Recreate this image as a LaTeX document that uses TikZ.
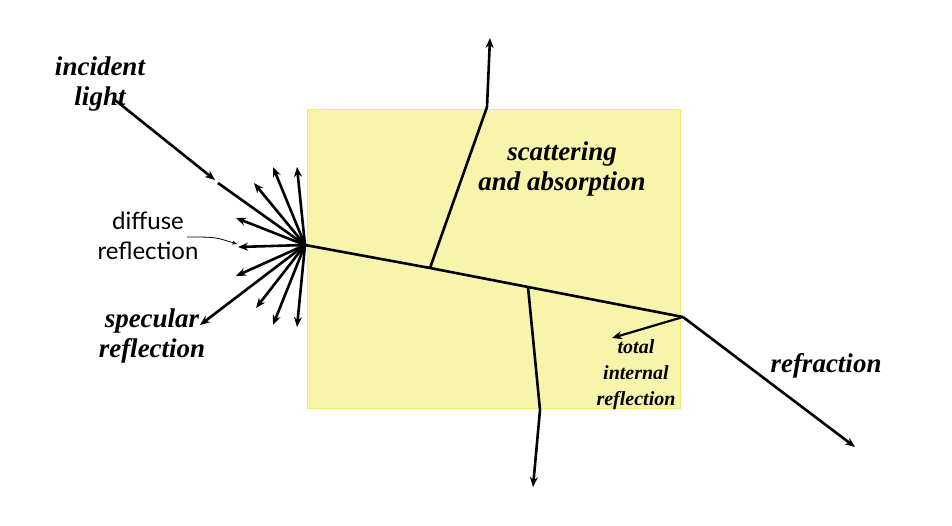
\documentclass[tikz,border=0pt]{standalone}
\usepackage{fontspec}
\usetikzlibrary{arrows.meta}
\setmainfont{Liberation Serif}
\newfontfamily\gill{Lato}
\begin{document}
\begin{tikzpicture}[x=1pt,y=-1pt,
  ray/.style={line width=2.6pt},
  arr/.style={line width=2.6pt,-{Stealth[length=10pt,width=8pt]}},
  lab/.style={font=\fontsize{27}{30}\selectfont\bfseries\itshape,align=center,inner sep=0pt}]
\useasboundingbox (0,0) rectangle (952,526);
\fill[white] (0,0) rectangle (952,526);
\node[draw={rgb,255:red,238;green,236;blue,110},fill={rgb,255:red,247;green,245;blue,172},minimum width=373pt,minimum height=299pt,anchor=north west,inner sep=0pt] (box) at (307,109) {};
\coordinate (P) at (305,245);
\coordinate (A) at (430,268);
\coordinate (B) at (528,287);
\coordinate (C) at (683,317);
\coordinate (S) at (115,100);
\coordinate (G1) at (215,180);
\coordinate (G2) at (218,183);
\draw[arr] (S) -- (G1);
\draw[ray] (G2) -- (P);
\foreach \x/\y in {297/167,273/167,254/183,236/218,238/247,236/276,256/308,273/325,297/327}
  \draw[arr] (P) -- (\x,\y);
\coordinate (SP) at (200,325);
\draw[arr] (P) -- (SP);
\draw[ray] (P) -- (A) -- (B) -- (C);
\coordinate (A1) at (487,107);
\coordinate (A2) at (490,38);
\draw[ray] (A) -- (A1);
\draw[arr] (A1) -- (A2);
\coordinate (B1) at (540,410);
\coordinate (B2) at (533,487);
\draw[ray] (B) -- (B1);
\draw[arr] (B1) -- (B2);
\coordinate (T) at (612,338);
\draw[arr,line width=2.2pt] (C) -- (T);
\coordinate (R) at (855,447);
\draw[arr] (C) -- (R);
\node[lab] (inc) at (100,84) {incident\\light};
\node[lab] (spec) at (152,336) {specular\\reflection};
\node[lab] (scat) at (562,169) {scattering\\and absorption};
\node[lab] (refr) at (826,366) {refraction};
\node[lab,font=\fontsize{20}{26}\selectfont\bfseries\itshape] (tir) at (636,375) {total\\internal\\reflection};
\node[font=\gill\fontsize{24}{30}\selectfont,align=center,inner sep=0pt] (diff) at (148,236) {diffuse\\reflection};
\coordinate (d1) at (187,237);
\coordinate (d2) at (237,244);
\draw[line width=0.8pt,-{Stealth[length=5pt,width=4pt]}] (d1) .. controls (215,237) .. (d2);
\end{tikzpicture}
\end{document}
